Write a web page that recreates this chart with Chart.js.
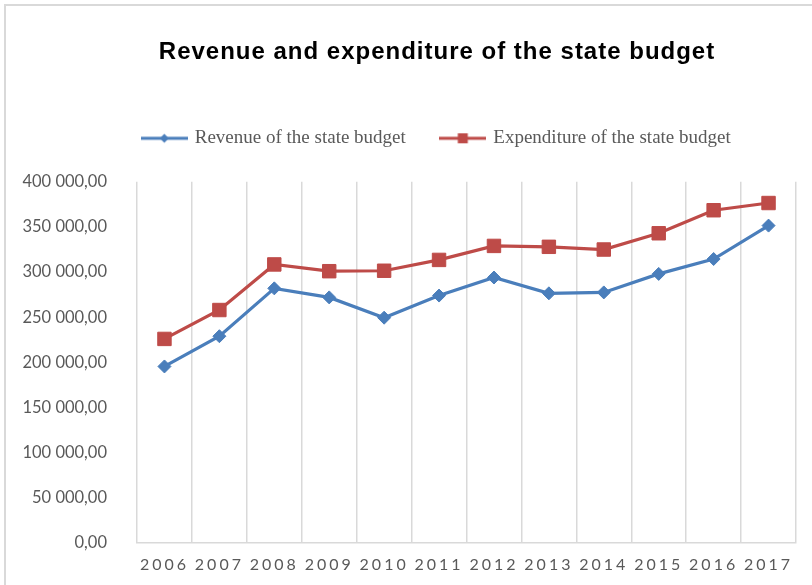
<!DOCTYPE html>
<html>
<head>
<meta charset="utf-8">
<script src="https://cdn.jsdelivr.net/npm/chart.js@4/dist/chart.umd.min.js"></script>
<style>
  html, body { margin: 0; padding: 0; background: #ffffff; }
  #wrap { position: relative; width: 812px; height: 585px; overflow: hidden; }
  #frame { position: absolute; left: 4px; top: 4px; width: 1000px; height: 800px;
           border: 2px solid #d9d9d9; pointer-events: none; }
  canvas { position: absolute; left: 0; top: 0; }
</style>
</head>
<body>
<div id="wrap">
  <div id="frame"></div>
  <canvas id="budget" width="812" height="585"></canvas>
</div>
<script>
// Years on the category axis
const years = ['2006', '2007', '2008', '2009', '2010', '2011',
               '2012', '2013', '2014', '2015', '2016', '2017'];

// State budget revenue by year
const revenue = [195500, 229000, 282000, 272000, 249500, 274000,
                 294000, 276500, 277500, 298000, 314500, 351500];

// State budget expenditure by year
const expenditure = [226000, 258000, 308500, 301000, 301500, 313500,
                     329000, 328000, 325000, 343000, 368500, 376500];

// Value axis ticks
const yTicks = [0, 50000, 100000, 150000, 200000, 250000, 300000, 350000, 400000];

const seriesNames = ['Revenue of the state budget', 'Expenditure of the state budget'];
const BLUE = '#4a7ebb';
const RED = '#be4b48';

// "400 000,00" style number format
function fmt(v) {
  return String(Math.round(v)).replace(/\B(?=(\d{3})+(?!\d))/g, ' ') + ',00';
}

// Legend glyph: a short line with the series marker in the middle
function legendGlyph(color, shape) {
  const c = document.createElement('canvas');
  c.width = 47; c.height = 20;
  const g = c.getContext('2d');
  g.strokeStyle = color;
  g.lineWidth = 3;
  g.beginPath(); g.moveTo(0, 10); g.lineTo(47, 10); g.stroke();
  g.fillStyle = color;
  g.beginPath();
  if (shape === 'diamond') {
    g.moveTo(23.5, 5.5); g.lineTo(28, 10); g.lineTo(23.5, 14.5); g.lineTo(19, 10);
  } else {
    g.rect(18.5, 5, 10, 10);
  }
  g.closePath(); g.fill();
  return c;
}
const glyphs = [legendGlyph(BLUE, 'diamond'), legendGlyph(RED, 'square')];

// Run a draw method with extra letter spacing on the canvas context
function withSpacing(obj, method, spacing) {
  const orig = obj[method];
  obj[method] = function (...args) {
    const c = this.ctx;
    const prev = c.letterSpacing;
    c.letterSpacing = spacing;
    const r = orig.apply(this, args);
    c.letterSpacing = prev;
    return r;
  };
}

// Spaced-out year labels and title; value labels allowed to extend past the axis box
const textTweaks = {
  id: 'textTweaks',
  beforeDraw(chart) {
    const sx = chart.scales.x;
    if (sx && !sx.__tweaked) {
      withSpacing(sx, 'drawLabels', '3px');
      sx.__tweaked = true;
    }
    const sy = chart.scales.y;
    if (sy && !sy.__tweaked) {
      sy._computeLabelArea = function () { return undefined; };
      sy.__tweaked = true;
    }
    const tb = chart.titleBlock;
    if (tb && !tb.__tweaked) {
      withSpacing(tb, 'draw', '1px');
      tb.__tweaked = true;
    }
  }
};

const tickFont = { family: 'Lato, "Open Sans", sans-serif', size: 16 };

new Chart(document.getElementById('budget'), {
  type: 'line',
  data: {
    labels: years,
    datasets: [
      {
        label: seriesNames[0],
        data: revenue,
        borderColor: BLUE,
        backgroundColor: BLUE,
        borderWidth: 3.2,
        pointStyle: 'rectRot',
        pointRadius: 6.5,
        pointBorderWidth: 1,
        tension: 0
      },
      {
        label: seriesNames[1],
        data: expenditure,
        borderColor: RED,
        backgroundColor: RED,
        borderWidth: 3.2,
        pointStyle: 'rect',
        pointRadius: 9.5,
        pointBorderWidth: 1,
        tension: 0
      }
    ]
  },
  options: {
    responsive: false,
    devicePixelRatio: 1,
    animation: false,
    layout: { padding: { top: 0, left: 78, right: 16, bottom: 0 } },
    plugins: {
      title: {
        display: true,
        text: 'Revenue and expenditure of the state budget',
        color: '#000000',
        font: { family: '"Liberation Sans", Arial, sans-serif', size: 24, weight: 'bold' },
        padding: { top: 38, bottom: 26 }
      },
      legend: {
        display: true,
        position: 'top',
        labels: {
          usePointStyle: true,
          pointStyleWidth: 42,
          padding: 36,
          color: '#595959',
          font: { family: '"Liberation Serif", "Times New Roman", serif', size: 19 },
          generateLabels(chart) {
            return chart.data.datasets.map((ds, i) => ({
              text: ds.label,
              fillStyle: ds.borderColor,
              strokeStyle: ds.borderColor,
              lineWidth: 0,
              pointStyle: glyphs[i],
              fontColor: '#595959',
              hidden: false,
              datasetIndex: i
            }));
          }
        }
      },
      tooltip: { enabled: false }
    },
    scales: {
      x: {
        type: 'category',
        offset: true,
        grid: { display: true, offset: true, color: '#d9d9d9', lineWidth: 1.5, drawTicks: false },
        border: { display: true, color: '#d9d9d9', width: 1.5 },
        ticks: { color: '#595959', font: tickFont, padding: 12, maxRotation: 0, autoSkip: false },
        afterFit(s) { s.height = 42; }
      },
      gap: {
        type: 'category',
        position: 'top',
        display: true,
        grid: { display: false, drawTicks: false },
        border: { display: false },
        ticks: { display: false },
        afterFit(s) { s.height = 24; }
      },
      y: {
        min: yTicks[0],
        max: yTicks[yTicks.length - 1],
        grid: { display: false, drawTicks: false },
        border: { display: false },
        afterBuildTicks(s) { s.ticks = yTicks.map(v => ({ value: v })); },
        ticks: { color: '#595959', font: { family: 'Lato, "Open Sans", sans-serif', size: 16.5 },
                 padding: 30, callback: v => fmt(v) },
        afterFit(s) { s.width = 59; }
      }
    }
  },
  plugins: [textTweaks]
});
</script>
</body>
</html>
